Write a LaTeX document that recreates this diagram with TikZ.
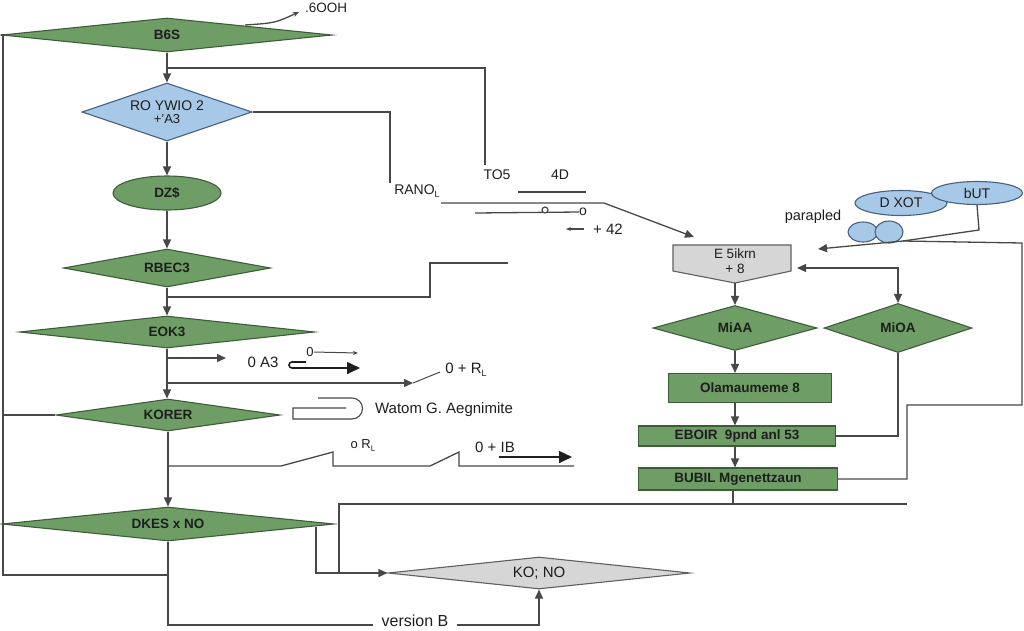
\documentclass[tikz,border=0pt]{standalone}
\usepackage{fontspec}
\setmainfont{Liberation Sans}
\usetikzlibrary{shapes.geometric,arrows.meta}
\definecolor{gfill}{RGB}{110,158,102}
\definecolor{gdraw}{RGB}{62,92,58}
\definecolor{bfill}{RGB}{168,200,232}
\definecolor{bdraw}{RGB}{72,96,130}
\definecolor{gyfill}{RGB}{214,214,214}
\definecolor{gydraw}{RGB}{95,95,95}
\definecolor{ln}{RGB}{72,72,72}
\definecolor{tx}{RGB}{30,30,30}
\newcommand\myfs[1]{\fontsize{#1}{#1}\selectfont}
\begin{document}
\begin{tikzpicture}[x=1pt,y=-1pt,
  conn/.style={draw=ln, line width=1.3pt},
  arr/.style={conn, -{Triangle[length=9pt,width=8pt]}},
  bigarr/.style={draw=tx, line width=1.6pt, -{Triangle[length=13pt,width=12pt]}},
  smallarr/.style={draw=ln, line width=1pt, -{Stealth[length=5pt,width=4pt]}},
  shp/.style={inner sep=0pt, line width=1.1pt, text=tx, font=\bfseries\myfs{13.5}},
  gdia/.style={shp, diamond, fill=gfill, draw=gdraw},
  bdia/.style={shp, diamond, fill=bfill, draw=bdraw, font=\myfs{14}},
  gydia/.style={shp, diamond, fill=gyfill, draw=gydraw, font=\myfs{15}},
  gbox/.style={shp, rectangle, fill=gfill, draw=gdraw},
  bell/.style={shp, ellipse, fill=bfill, draw=bdraw, font=\myfs{14}},
  lbl/.style={inner sep=0pt, text=tx, font=\myfs{14}}
]
\useasboundingbox (0,0) rectangle (1024,630);

% ---------- left column shapes ----------
\node[gdia, aspect=9.7, minimum width=330pt, minimum height=34pt] (d1) at (167,35) {B6S};
\node[bdia, aspect=2.9, minimum width=170pt, minimum height=58pt, align=center] (d2) at (167,112) {RO YWIO 2\\[-1pt]{\myfs{13}+'A3}};
\node[shp, ellipse, fill=gfill, draw=gdraw, minimum width=108pt, minimum height=34pt] (e1) at (167,193) {DZ\$};
\node[gdia, aspect=5.4, minimum width=207pt, minimum height=38pt] (d3) at (167,268) {RBEC3};
\node[gdia, aspect=9.2, minimum width=295pt, minimum height=32pt] (d4) at (167,332) {EOK3};
\node[gdia, aspect=7, minimum width=224pt, minimum height=32pt] (d5) at (168,415) {KORER};
\node[gdia, aspect=9.8, minimum width=332pt, minimum height=34pt] (d6) at (168,524) {DKES x NO};
\node[gydia, aspect=9.4, minimum width=302pt, minimum height=32pt] (d7) at (539,573) {KO; NO};

% ---------- right column shapes ----------
\draw[fill=gyfill, draw=gydraw, line width=1.1pt] (673,245) -- (791,245) -- (791,271) -- (735,283) -- (673,271) -- cycle;
\node[lbl, font=\myfs{13.5}, align=center] (pent) at (735,261) {E 5ikrn\\[2pt]+ 8};
\coordinate (pentS) at (735,283);
\node[gdia, aspect=3.6, minimum width=164pt, minimum height=45pt] (d8) at (735,328) {MiAA};
\node[gdia, aspect=3, minimum width=148pt, minimum height=49pt] (d9) at (898,328) {MiOA};
\node[gbox, minimum width=163pt, minimum height=29pt] (b1) at (750,388) {Olamaumeme 8};
\node[gbox, minimum width=197pt, minimum height=20pt] (b2) at (737,436) {EBOIR\ \ 9pnd anl 53};
\node[gbox, minimum width=199pt, minimum height=22pt] (b3) at (738,479) {BUBIL Mgenettzaun};
\node[bell, minimum width=92pt, minimum height=25pt] (eb1) at (901,203) {D XOT};
\node[bell, minimum width=91pt, minimum height=23pt] (eb2) at (977,193) {bUT};
\node[shp, ellipse, fill=bfill, draw=bdraw, minimum width=30pt, minimum height=20pt] (bl1) at (863,232) {};
\node[shp, ellipse, fill=bfill, draw=bdraw, minimum width=28pt, minimum height=22pt] (bl2) at (889,232) {};
\node[lbl, font=\myfs{14.5}] (parap) at (813,217) {parapled};

% ---------- texts ----------
\node[lbl, font=\myfs{13.5}] (t6ooh) at (326,8) {.6OOH};
\node[lbl] (tTO5) at (497,175) {TO5};
\node[lbl] (t4D) at (560,175) {4D};
\node[lbl] (tRANO) at (417,191) {RANO\raisebox{-3pt}{\myfs{9}L}};
\node[lbl] (to1) at (583,212) {o};
\node[lbl, font=\myfs{15}] (t42) at (608,229) {+ 42};
\node[lbl, font=\myfs{15}] (tA3) at (263,362) {0 A3};
\node[lbl, font=\myfs{13}] (to2) at (310,352) {0};
\node[lbl, font=\myfs{15}] (tRL) at (466,370) {0 + R\raisebox{-3pt}{\myfs{9}L}};
\node[lbl, font=\myfs{15}] (twat) at (444,410) {Watom G. Aegnimite};
\node[lbl, font=\myfs{13}] (toRL) at (363,446) {o R\raisebox{-3pt}{\myfs{8}L}};
\node[lbl, font=\myfs{15}] (tIB) at (495,447) {0 + IB};
\node[lbl, font=\myfs{16}, inner xsep=8pt] (vb) at (415,621) {version B};
\coordinate (vbw) at (vb.west |- 0,625);
\coordinate (vbe) at (vb.east |- 0,625);

% ---------- left column connectors ----------
\draw[arr] (d1.south) -- (d2.north);
\coordinate (j1) at (167,68);
\draw[conn] (j1) -| (485,165);
\draw[conn] (d2.east) -| (390,183);
\draw[arr] (d2.south) -- (e1.north);
\draw[arr] (e1.south) -- (d3.north);
\draw[arr] (d3.south) -- (d4.north);
\coordinate (j2) at (167,297);
\draw[conn] (j2) -- (430,297) -- (430,263) -- (508,263);
\draw[arr] (d4.south) -- (d4.south |- d5.north);
\coordinate (j3) at (167,358);
\draw[arr] (j3) -- (226,358);
\coordinate (j4) at (167,383);
\draw[arr] (j4) -- (413,383);
\draw[conn, line width=1pt] (413,383) -- (440,372);
\draw[arr] (d5.south) -- (d6.north);
\coordinate (j5) at (168,466);
\draw[conn] (j5) -- (281,466) -- (333,452) -- (333,466) -- (430,466) -- (459,452) -- (459,466) -- (574,466);
\draw[bigarr] (499,457) -- (572,457);
\draw[conn] (d1.west) -- (3,35) -- (3,575) -- (168,575);
\draw[conn] (3,415) -- (d5.west);
\draw[conn] (d6.south) |- (vbw);
\draw[arr] (vbe) -| (d7.south);
\coordinate (j6) at (316,527);
\draw[arr] (j6) |- (d7.west);
\coordinate (j7) at (339,573);
\draw[conn] (j7) |- (907,504);
\draw[conn] (b3.south -| 733,0) -- (733,504);

% small decorations
\draw[smallarr] (to2.east) -- (358,353);
\draw[bigarr, rounded corners=3pt] (306,362) -- (289,362) -- (289,368) -- (360,368);
\draw[conn, line width=1.1pt] (318,398) -- (352,398) arc[start angle=90, end angle=-90, radius=10.5pt] -- (293,419) -- (293,408) -- (346,408);
\draw[conn, -{Stealth[length=6pt,width=5pt]}] (245,25) .. controls (275,23) .. (299,12);

% ---------- middle connectors ----------
\draw[conn, line width=1.6pt] (518,192) -- (586,192);
\draw[conn] (475,213) -- (to1.west);
\draw[conn, fill=white, line width=1.2pt] (545,210) circle[radius=3pt];
\draw[smallarr, line width=1.3pt] (584,229) -- (566,229);
\coordinate (r1) at (441,203);
\draw[arr] (r1) -- (604,203) -- (694,237);

% ---------- right connectors ----------
\draw[arr] (pentS) -- (d8.north);
\draw[arr] (d8.south) -- (d8.south |- b1.north);
\draw[arr] (b1.south -| d8.south) -- (b2.north -| d8.south);
\draw[arr] (b2.south -| d8.south) -- (b3.north -| d8.south);
\draw[conn] (d9.south) |- (b2.east);
\draw[conn, {Triangle[length=9pt,width=8pt]}-{Triangle[length=9pt,width=8pt]}] (797,268) -- (898,268) -- (d9.north);
\coordinate (k1) at (903,241);
\draw[conn] (b3.east) -| (907,405) -| (1022,243) -- (k1);
\draw[arr] (k1) -- (818,249);
\draw[conn] (eb2.south) -- (979,230) -- (k1);
\end{tikzpicture}
\end{document}
